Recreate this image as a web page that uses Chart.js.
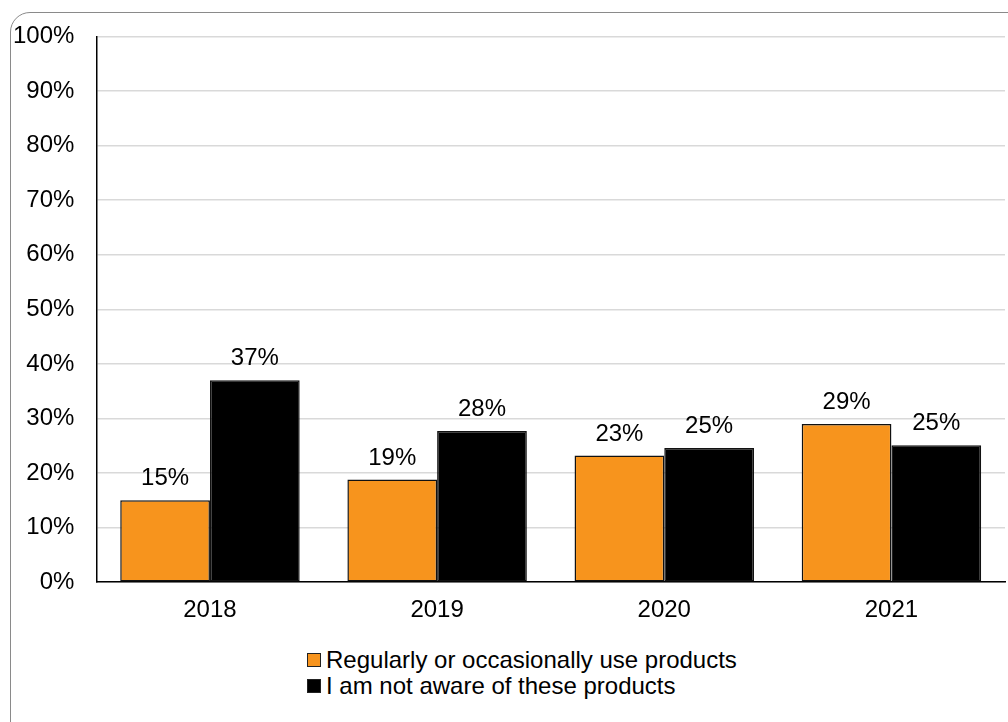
<!DOCTYPE html>
<html>
<head>
<meta charset="utf-8">
<script src="https://cdn.jsdelivr.net/npm/chart.js@4.4.0/dist/chart.umd.min.js"></script>
<style>
  html, body { margin: 0; padding: 0; background: #fff; overflow: hidden; }
  body { width: 1008px; height: 722px; position: relative; font-family: "Liberation Sans", Arial, sans-serif; }
  #frame {
    position: absolute; left: 10px; top: 12px; width: 1100px; height: 800px;
    border: 1.5px solid #8a8a8a; border-radius: 20px; box-sizing: border-box;
  }
  #wrap { position: absolute; left: -24px; top: 0; width: 1032px; height: 640px; }
  #legend { position: absolute; left: 307px; top: 647px; font-size: 24px; color: #000; }
  .row { display: flex; align-items: center; height: 26px; }
  .box { width: 12px; height: 12px; border: 1.5px solid #222; margin-right: 5px; box-sizing: content-box; }
</style>
</head>
<body>
<div id="frame"></div>
<div id="wrap"><canvas id="myChart"></canvas></div>
<div id="legend"></div>
<script>
// Datos del gráfico
const years = ['2018', '2019', '2020', '2021'];
const useProducts = [15, 18.8, 23.2, 29];
const notAware = [37, 27.7, 24.6, 25.1];
const seriesNames = ['Regularly or occasionally use products', 'I am not aware of these products'];
const seriesColors = ['#F7941D', '#000000'];
const yTicks = [0, 10, 20, 30, 40, 50, 60, 70, 80, 90, 100];

const FONT = "'Liberation Sans', Arial, sans-serif";

// Etiquetas encima de cada barra
const barLabels = {
    id: 'barLabels',
    afterDatasetsDraw(chart) {
        const ctx = chart.ctx;
        ctx.save();
        ctx.font = '24px ' + FONT;
        ctx.fillStyle = '#000';
        ctx.textAlign = 'center';
        ctx.textBaseline = 'alphabetic';
        chart.data.datasets.forEach((ds, i) => {
            chart.getDatasetMeta(i).data.forEach((bar, j) => {
                ctx.fillText(Math.round(ds.data[j]) + '%', bar.x, bar.y - 15);
            });
        });
        ctx.restore();
    }
};

document.addEventListener("DOMContentLoaded", function () {
    const ctx = document.getElementById('myChart').getContext('2d');

    window.myChart = new Chart(ctx, {
        type: 'bar',
        data: {
            labels: years,
            datasets: [
                {
                    label: seriesNames[0],
                    data: useProducts,
                    backgroundColor: seriesColors[0],
                    borderColor: '#111',
                    borderWidth: 1.5,
                    borderSkipped: false
                },
                {
                    label: seriesNames[1],
                    data: notAware,
                    backgroundColor: seriesColors[1],
                    borderColor: '#111',
                    borderWidth: 1.5,
                    borderSkipped: false
                }
            ]
        },
        options: {
            responsive: true,
            maintainAspectRatio: false,
            animation: false,
            layout: { padding: { left: 15, right: 3, top: 26, bottom: 1 } },
            datasets: { bar: { categoryPercentage: 0.79, barPercentage: 1 } },
            plugins: {
                legend: { display: false },
                tooltip: { enabled: false }
            },
            scales: {
                x: {
                    grid: { display: false, drawTicks: false },
                    border: { display: true, color: '#000', width: 1.5 },
                    ticks: { color: '#000', padding: 14, font: { size: 24, family: FONT } }
                },
                y: {
                    min: 0,
                    max: 100,
                    afterBuildTicks: (axis) => { axis.ticks = yTicks.map(v => ({ value: v })); },
                    grid: { color: '#d9d9d9', lineWidth: 1.5, drawTicks: false },
                    border: { display: true, color: '#000', width: 1.5 },
                    ticks: {
                        color: '#000',
                        padding: 22,
                        font: { size: 24, family: FONT },
                        callback: (v) => v + '%'
                    }
                }
            }
        },
        plugins: [barLabels]
    });

    // Leyenda en HTML
    const legend = document.getElementById('legend');
    seriesNames.forEach((name, i) => {
        const row = document.createElement('div');
        row.className = 'row';
        const box = document.createElement('span');
        box.className = 'box';
        box.style.background = seriesColors[i];
        const txt = document.createElement('span');
        txt.textContent = name;
        row.appendChild(box);
        row.appendChild(txt);
        legend.appendChild(row);
    });
});
</script>
</body>
</html>
